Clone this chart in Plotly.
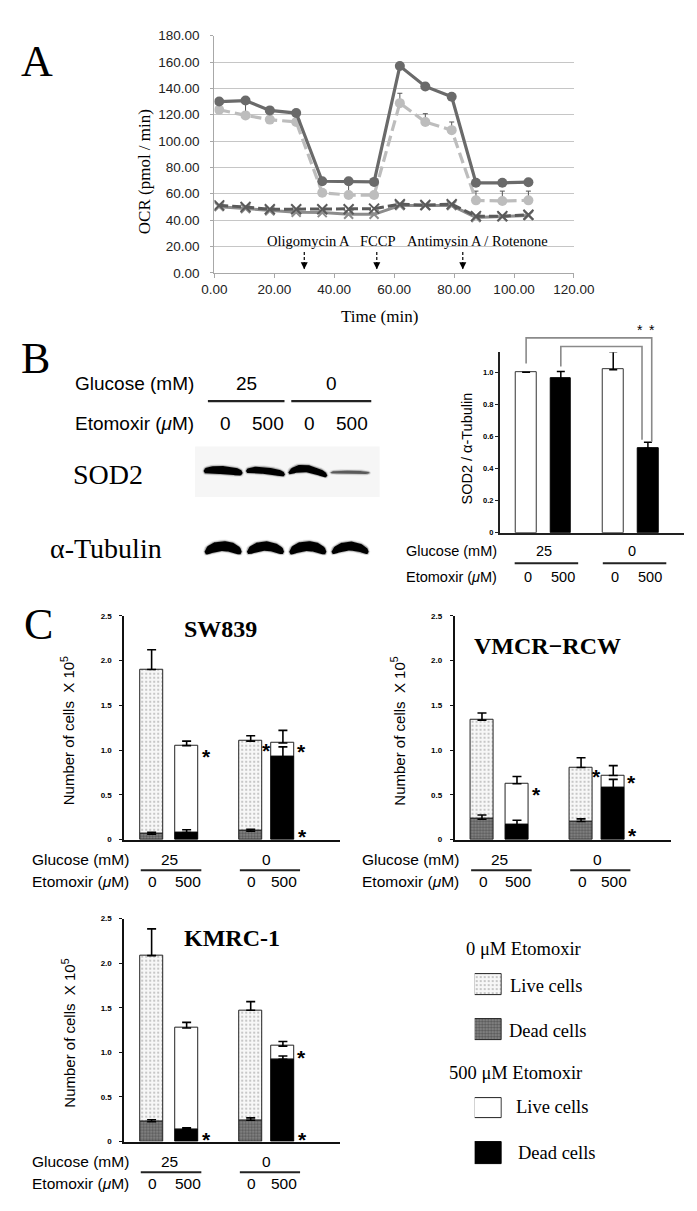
import plotly.graph_objects as go

W, H = 697, 1211
SANS = "Liberation Sans, Arial, sans-serif"
SERIF = "Liberation Serif, Times New Roman, serif"

# ---------------- Panel A data (OCR) ----------------
time_min = [1.6, 10.4, 18.5, 27.3, 36.0, 44.8, 53.3, 61.9, 70.4, 79.2, 87.3, 96.1, 104.8]
ocr_s1 = [130.0, 130.8, 123.3, 121.3, 69.5, 69.5, 69.0, 157.0, 141.5, 133.7, 68.3, 68.3, 68.8]
ocr_s1_err = [2.0, 0, 0, 0, 0, 0, 0, 0, 1.5, 0, 0, 0, 0]
ocr_s2 = [123.8, 119.5, 116.3, 114.5, 60.8, 59.0, 59.0, 128.8, 114.5, 108.3, 55.0, 54.5, 55.0]
ocr_s2_err = [0, 11.0, 0, 0, 0, 10.0, 0, 7.5, 6.3, 6.2, 7.0, 7.5, 7.0]
ocr_s3 = [51.2, 50.0, 48.2, 48.2, 48.2, 48.2, 48.7, 52.0, 51.5, 52.0, 43.0, 43.0, 44.0]
ocr_s4 = [50.2, 48.7, 47.0, 46.0, 45.7, 44.4, 44.4, 51.0, 51.0, 51.0, 42.0, 42.5, 43.5]
inhibitor_names = ["Oligomycin A", "FCCP", "Antimysin A / Rotenone"]
inhibitor_time = [30.0, 54.2, 82.9]
a_xticks = [0, 20, 40, 60, 80, 100, 120]
a_yticks = [0, 20, 40, 60, 80, 100, 120, 140, 160, 180]

# ---------------- Panel B data ----------------
glucose_labels = ["25", "0"]
etomoxir_labels = ["0", "500", "0", "500"]
sod2_ratio = [1.0, 0.96, 1.016, 0.525]
sod2_ratio_err = [0.0, 0.044, 0.111, 0.038]
sod2_band = [1.0, 0.85, 0.92, 0.35]
tubulin_band = [1.0, 0.95, 1.0, 0.9]
b_yticks = [0, 0.2, 0.4, 0.6, 0.8, 1.0]
b_yticktext = ["0", "0.2", "0.4", "0.6", "0.8", "1.0"]

# ---------------- Panel C data (cells x 10^5) ----------------
sw839_total = [1.90, 1.05, 1.10, 1.08]
sw839_total_err = [0.22, 0.05, 0.06, 0.14]
sw839_dead = [0.062, 0.08, 0.095, 0.926]
sw839_dead_err = [0.02, 0.03, 0.022, 0.11]

vmcr_total = [1.335, 0.625, 0.805, 0.717]
vmcr_total_err = [0.08, 0.08, 0.11, 0.11]
vmcr_dead = [0.228, 0.165, 0.202, 0.577]
vmcr_dead_err = [0.048, 0.052, 0.03, 0.096]

kmrc_total = [2.086, 1.274, 1.473, 1.071]
kmrc_total_err = [0.30, 0.063, 0.097, 0.052]
kmrc_dead = [0.222, 0.137, 0.24, 0.923]
kmrc_dead_err = [0.022, 0.018, 0.026, 0.037]

c_yticks = [0, 0.5, 1.0, 1.5, 2.0, 2.5]
c_yticktext = ["0", "0.5", "1.0", "1.5", "2.0", "2.5"]

# ---------------- layout geometry (pixels) ----------------
bar_pos_b = [0, 1, 2.51, 3.51]
bar_pos_c = [0, 1, 2.83, 3.75]
AX = {
    "A":    dict(n="", l=203.3, r=581.3, t=21.0, b=261.0, xr=[0, 120], yr=[0, 180]),
    "blot": dict(n="2", l=183, r=377, t=430, b=560, xr=[-0.663, 3.697], yr=[-0.255, 1.405]),
    "B":    dict(n="3", l=503.3, r=697, t=341.4, b=524.2, xr=[-0.76, 4.55], yr=[0, 1.125]),
    "SW":   dict(n="4", l=108.5, r=335.7, t=608.3, b=835.0, xr=[-0.783, 5.39], yr=[0, 2.5]),
    "VM":   dict(n="5", l=455.8, r=683.0, t=608.3, b=835.0, xr=[-0.783, 5.39], yr=[0, 2.5]),
    "KM":   dict(n="6", l=108.5, r=335.7, t=915.0, b=1140.7, xr=[-0.783, 5.39], yr=[0, 2.5]),
    "LG":   dict(n="7", l=477.0, r=505.5, t=960.0, b=1175.0, xr=[-0.5, 0.5], yr=[1175, 960]),
}


def xp(a, v):
    g = AX[a]
    px = g["l"] + (v - g["xr"][0]) / (g["xr"][1] - g["xr"][0]) * (g["r"] - g["l"])
    return px / W


def yp(a, v):
    g = AX[a]
    py = g["b"] - (v - g["yr"][0]) / (g["yr"][1] - g["yr"][0]) * (g["b"] - g["t"])
    return 1 - py / H


def PX(px):
    return px / W


def PY(py):
    return 1 - py / H


def axn(a):
    n = AX[a]["n"]
    return "x" + n, "y" + n


fig = go.Figure()
annotations = []
shapes = []


def txt(x, y, text, size, family=SANS, xanchor="center", yanchor="middle", color="black", **kw):
    annotations.append(dict(x=x, y=y, xref="paper", yref="paper", text=text, showarrow=False,
                            xanchor=xanchor, yanchor=yanchor,
                            font=dict(size=size, family=family, color=color), **kw))


def hline(x0, x1, y, color="black", width=1.8):
    shapes.append(dict(type="line", xref="paper", yref="paper", x0=x0, x1=x1, y0=y, y1=y,
                       line=dict(color=color, width=width)))


# ================= Panel A =================
xa, ya = axn("A")
for t in inhibitor_time:
    fig.add_trace(go.Scatter(x=[t, t], y=[15.7, 3.0], mode="lines", xaxis=xa, yaxis=ya,
                             line=dict(color="black", width=1.2, dash="3px,2px"),
                             showlegend=False, hoverinfo="skip"))
fig.add_trace(go.Scatter(x=inhibitor_time, y=[2.6] * len(inhibitor_time), mode="markers",
                         xaxis=xa, yaxis=ya, showlegend=False, hoverinfo="skip",
                         marker=dict(symbol="arrow-down", size=7, color="black")))
label_off = [1.5, 0.1, 4.8]
for name, t, o in zip(inhibitor_names, inhibitor_time, label_off):
    annotations.append(dict(x=t + o, y=23.8, xref=xa, yref=ya, text=name, showarrow=False,
                            font=dict(size=14.5, family=SERIF, color="black")))

fig.add_trace(go.Scatter(x=time_min, y=ocr_s4, mode="lines+markers", xaxis=xa, yaxis=ya,
                         line=dict(color="#8c8c8c", width=3),
                         marker=dict(symbol="x-thin", size=9, line=dict(color="#8c8c8c", width=2)),
                         showlegend=False))
fig.add_trace(go.Scatter(x=time_min, y=ocr_s3, mode="lines+markers", xaxis=xa, yaxis=ya,
                         line=dict(color="#5a5a5a", width=3, dash="9px,4px"),
                         marker=dict(symbol="x-thin", size=10, line=dict(color="#5a5a5a", width=2)),
                         showlegend=False))
fig.add_trace(go.Scatter(x=time_min, y=ocr_s2, mode="lines+markers", xaxis=xa, yaxis=ya,
                         line=dict(color="#bdbdbd", width=3.2, dash="11px,5px"),
                         marker=dict(symbol="circle", size=10, color="#bdbdbd"),
                         error_y=dict(type="data", array=ocr_s2_err, arrayminus=[0] * len(ocr_s2_err),
                                      symmetric=False, color="#555", thickness=1, width=2.5),
                         showlegend=False))
fig.add_trace(go.Scatter(x=time_min, y=ocr_s1, mode="lines+markers", xaxis=xa, yaxis=ya,
                         line=dict(color="#6a6a6a", width=3.2),
                         marker=dict(symbol="circle", size=10, color="#6a6a6a"),
                         error_y=dict(type="data", array=ocr_s1_err, arrayminus=[0] * len(ocr_s1_err),
                                      symmetric=False, color="#555", thickness=1, width=2.5),
                         showlegend=False))

txt(PX(17), PY(46.7), "A", 44, SERIF)
txt(PX(129.5), PY(159), "OCR (pmol / min)", 17, SERIF, textangle=-90)
txt(PX(377), PY(305), "Time (min)", 17, SERIF)

# ================= Panel B: blot =================
xa, ya = axn("blot")
shapes.append(dict(type="rect", xref="paper", yref="paper", x0=PX(183), x1=PX(377), y0=PY(488),
                   y1=PY(437), fillcolor="#f6f6f6", line=dict(width=0), layer="below"))
XU = (AX["blot"]["r"] - AX["blot"]["l"]) / (AX["blot"]["xr"][1] - AX["blot"]["xr"][0])
YU = (AX["blot"]["b"] - AX["blot"]["t"]) / (AX["blot"]["yr"][1] - AX["blot"]["yr"][0])
# band centre-line offsets in px (positive = up) at u = -1, -0.5, 0, 0.5, 1 (style only)
sod2_prof = [[0, 1, 1, 0, -2], [0, 1, 0.5, -1, -3.5],
             [-1.5, 2.5, 2.5, -0.5, -4.5], [-1.5, -1.2, -1.0, -1.4, -2.0]]
tub_prof = [-3.5, 1.0, 2.5, 1.0, -3.5]
US = [-1, -0.5, 0, 0.5, 1]


def interp(u, vs):
    for k in range(len(US) - 1):
        if US[k] <= u <= US[k + 1]:
            f = (u - US[k]) / (US[k + 1] - US[k])
            return vs[k] + f * (vs[k + 1] - vs[k])
    return vs[-1]


def band(lane, row, inten, th_px, half_px, prof):
    n = 31
    us = [-1 + 2 * k / (n - 1) for k in range(n)]
    core = "black" if inten > 0.6 else "#5a5a5a"
    for grow, col in [(3.5, "rgba(0,0,0,0.08)"), (1.6, "rgba(0,0,0,0.25)"), (0, core)]:
        hw = half_px + grow / 2
        th = (th_px * inten + grow) / 2
        top_x, top_y, bot_x, bot_y = [], [], [], []
        for u in us:
            tap = max(0.0, 1 - abs(u) ** 5) ** 0.4
            yc = interp(u, prof)
            xx = lane + u * hw / XU
            top_x.append(xx)
            bot_x.append(xx)
            top_y.append(row + (yc + th * tap) / YU)
            bot_y.append(row + (yc - th * tap) / YU)
        fig.add_trace(go.Scatter(x=top_x + bot_x[::-1], y=top_y + bot_y[::-1], mode="lines",
                                 fill="toself", fillcolor=col, line=dict(width=0),
                                 xaxis=xa, yaxis=ya, showlegend=False, hoverinfo="skip"))


for i, v in enumerate(sod2_band):
    band(i, 1, v, 8.0, 20.5, sod2_prof[i])
for i, v in enumerate(tubulin_band):
    band(i, 0, v, 10.0, 19.5, tub_prof)

txt(PX(15.6), PY(348), "B", 44, SERIF)
txt(PX(184), PY(372.7), "Glucose (mM)", 19, xanchor="right")
txt(PX(184), PY(413.3), "Etomoxir (<i>μ</i>M)", 19, xanchor="right")
txt(xp("blot", 0.55), PY(372.7), glucose_labels[0], 19)
txt(xp("blot", 2.57), PY(372.7), glucose_labels[1], 19)
for i, lab in enumerate(etomoxir_labels):
    txt(xp("blot", i + 0.05), PY(413.3), lab, 19)
hline(xp("blot", -0.36), xp("blot", 1.45), PY(391), "#222", 2.2)
hline(xp("blot", 1.61), xp("blot", 3.5), PY(391), "#222", 2.2)
txt(PX(91.5), PY(465), "SOD2", 28, SERIF)
txt(PX(89.3), PY(540), "α-Tubulin", 28, SERIF)

# ================= Panel B: bar chart =================
xa, ya = axn("B")
fig.add_trace(go.Bar(x=[bar_pos_b[0], bar_pos_b[2]], y=[sod2_ratio[0], sod2_ratio[2]], width=0.6,
                     marker=dict(color="white", line=dict(color="#333", width=1)),
                     error_y=dict(type="data", array=[sod2_ratio_err[0], sod2_ratio_err[2]],
                                  arrayminus=[0, 0], symmetric=False, color="black", thickness=1.5, width=4),
                     xaxis=xa, yaxis=ya, showlegend=False))
fig.add_trace(go.Bar(x=[bar_pos_b[1], bar_pos_b[3]], y=[sod2_ratio[1], sod2_ratio[3]], width=0.6,
                     marker=dict(color="black", line=dict(color="black", width=1)),
                     error_y=dict(type="data", array=[sod2_ratio_err[1], sod2_ratio_err[3]],
                                  arrayminus=[0, 0], symmetric=False, color="black", thickness=1.5, width=4),
                     xaxis=xa, yaxis=ya, showlegend=False))

# significance brackets (outer: lane1 vs lane4, inner: lane2 vs lane4)
for x0, y0, x1, y1, top in [(bar_pos_b[0], 1.054, bar_pos_b[3] + 0.11, 0.567, 1.214),
                            (bar_pos_b[1], 1.035, bar_pos_b[3] - 0.17, 0.58, 1.16)]:
    path = "M {:.5f},{:.5f} L {:.5f},{:.5f} L {:.5f},{:.5f} L {:.5f},{:.5f}".format(
        xp("B", x0), yp("B", y0), xp("B", x0), yp("B", top), xp("B", x1), yp("B", top),
        xp("B", x1), yp("B", y1))
    shapes.append(dict(type="path", xref="paper", yref="paper", path=path,
                       line=dict(color="#8a8a8a", width=1.6)))
txt(xp("B", 3.29), yp("B", 1.262), "*", 14, SANS)
txt(xp("B", 3.62), yp("B", 1.262), "*", 14, SANS)

txt(PX(468.8), PY(439), "SOD2 / α-Tubulin", 14.5, textangle=-90)
bb = AX["B"]["b"]
txt(PX(AX["B"]["l"] - 50.6), PY(bb + 18.5), "Glucose (mM)", 14.5)
txt(PX(AX["B"]["l"] - 50.6), PY(bb + 45), "Etomoxir (<i>μ</i>M)", 14.5)
txt(xp("B", 0.52), PY(bb + 18.5), glucose_labels[0], 14.5)
txt(xp("B", 3.05), PY(bb + 18.5), glucose_labels[1], 14.5)
for p, lab in zip(bar_pos_b, etomoxir_labels):
    txt(xp("B", p + 0.05), PY(bb + 45), lab, 14.5)
hline(xp("B", -0.33), xp("B", 1.5), PY(bb + 31), "#222", 2)
hline(xp("B", 2.21), xp("B", 4.04), PY(bb + 31), "#222", 2)

# ================= Panel C =================
LIVE0 = dict(color="#f7f7f7", line=dict(color="#222", width=1),
             pattern=dict(shape=".", fgcolor="#7d7d7d", size=4, solidity=0.22))
DEAD0 = dict(color="#8a8a8a", line=dict(color="#222", width=1),
             pattern=dict(shape=".", fgcolor="#262626", size=3, solidity=0.5))
LIVE5 = dict(color="white", line=dict(color="#222", width=1))
DEAD5 = dict(color="black", line=dict(color="black", width=1))


def err(a):
    return dict(type="data", array=a, arrayminus=[0] * len(a), symmetric=False,
                color="black", thickness=1.6, width=4.5)


def cell_chart(key, total, total_err, dead, dead_err, stars, title, title_px):
    xa, ya = axn(key)
    live = [t - d for t, d in zip(total, dead)]
    for idx, style_live in [([0, 2], LIVE0), ([1, 3], LIVE5)]:
        fig.add_trace(go.Bar(x=[bar_pos_c[i] for i in idx], y=[live[i] for i in idx],
                             base=[dead[i] for i in idx], width=0.67, marker=style_live,
                             error_y=err([total_err[i] for i in idx]),
                             xaxis=xa, yaxis=ya, showlegend=False))
    for idx, style_dead in [([0, 2], DEAD0), ([1, 3], DEAD5)]:
        fig.add_trace(go.Bar(x=[bar_pos_c[i] for i in idx], y=[dead[i] for i in idx],
                             width=0.67, marker=style_dead,
                             error_y=err([dead_err[i] for i in idx]),
                             xaxis=xa, yaxis=ya, showlegend=False))
    for sx, sy in stars:
        annotations.append(dict(x=sx, y=sy, xref=xa, yref=ya, text="<b>*</b>", showarrow=False,
                                yshift=-5, font=dict(size=21, family=SANS, color="black")))
    g = AX[key]
    txt(PX(title_px[0]), PY(title_px[1]), "<b>%s</b>" % title, 24, SERIF)
    txt(PX(g["l"] - 59.5), PY((g["t"] + g["b"]) / 2 + 3), "Number of cells  X 10<sup>5</sup>", 15,
        textangle=-90)
    b = g["b"]
    txt(PX(g["l"] - 46), PY(b + 20.5), "Glucose (mM)", 15.5)
    txt(PX(g["l"] - 46), PY(b + 42), "Etomoxir (<i>μ</i>M)", 15.5)
    txt(xp(key, 0.5), PY(b + 20.5), glucose_labels[0], 15.5)
    txt(xp(key, (bar_pos_c[2] + bar_pos_c[3]) / 2), PY(b + 20.5), glucose_labels[1], 15.5)
    for p, lab in zip(bar_pos_c, etomoxir_labels):
        txt(xp(key, p + 0.03), PY(b + 42.5), lab, 15.5)
    hline(xp(key, -0.31), xp(key, 1.42), PY(b + 31), "#222", 2)
    hline(xp(key, 2.52), xp(key, 4.24), PY(b + 31), "#222", 2)


cell_chart("SW", sw839_total, sw839_total_err, sw839_dead, sw839_dead_err,
           [(1.57, 0.985), (3.28, 1.055), (4.27, 1.04), (4.3, 0.09)], "SW839", (209.8, 621.7))
cell_chart("VM", vmcr_total, vmcr_total_err, vmcr_dead, vmcr_dead_err,
           [(1.55, 0.56), (3.27, 0.765), (4.26, 0.69), (4.3, 0.1)], "VMCR−RCW", (553.6, 639.3))
cell_chart("KM", kmrc_total, kmrc_total_err, kmrc_dead, kmrc_dead_err,
           [(1.57, 0.08), (4.27, 1.0), (4.3, 0.08)], "KMRC-1", (221.9, 935))
txt(PX(17.9), PY(616.7), "C", 44, SERIF)

# ================= Legend (swatches) =================
xa, ya = axn("LG")
legend_items = ["Live cells", "Dead cells", "Live cells", "Dead cells"]
legend_styles = [LIVE0, DEAD0, LIVE5, DEAD5]
legend_top_px = [971.0, 1016.5, 1096.7, 1141.7]
legend_h_px = [21.0, 21.0, 20.0, 21.5]
legend_text_px = [(511.7, 983.3), (510.7, 1028.3), (517.9, 1105.5), (520.0, 1152.3)]
for st, top, h in zip(legend_styles, legend_top_px, legend_h_px):
    fig.add_trace(go.Bar(x=[0], y=[h], base=[top], width=1.0, marker=st, xaxis=xa, yaxis=ya,
                         showlegend=False, hoverinfo="skip"))
for name, (tx, ty) in zip(legend_items, legend_text_px):
    txt(PX(tx), PY(ty), name, 18.5, SERIF, xanchor="left")
txt(PX(528), PY(946), "0 μM Etomoxir", 18.5, SERIF)
txt(PX(519.7), PY(1071.7), "500 μM Etomoxir", 18.5, SERIF)

# ================= axes =================
layout_axes = {}
for key, g in AX.items():
    n = g["n"]
    xd = [g["l"] / W, g["r"] / W]
    yd = [1 - g["b"] / H, 1 - g["t"] / H]
    xk, yk = "xaxis" + n, "yaxis" + n
    layout_axes[xk] = dict(domain=xd, range=g["xr"], anchor="y" + n, showgrid=False,
                           zeroline=False, showticklabels=False, ticks="", showline=False,
                           fixedrange=True)
    layout_axes[yk] = dict(domain=yd, range=g["yr"], anchor="x" + n, showgrid=False,
                           zeroline=False, showticklabels=False, ticks="", showline=False,
                           fixedrange=True)

layout_axes["xaxis"].update(showline=True, linecolor="#a8a8a8", linewidth=1.2,
                            showticklabels=True, tickvals=a_xticks, tickformat=".2f",
                            ticks="outside", ticklen=4, tickcolor="#a8a8a8",
                            tickfont=dict(size=13.5, family=SANS, color="#222"))
layout_axes["yaxis"].update(showline=True, linecolor="#a8a8a8", linewidth=1.2, showgrid=True,
                            gridcolor="#c6c6c6", gridwidth=1.3, showticklabels=True,
                            tickvals=a_yticks, tickformat=".2f", ticks="outside", ticklen=3,
                            tickcolor="#a8a8a8", ticklabelstandoff=8,
                            tickfont=dict(size=13.5, family=SANS, color="#222"))
layout_axes["xaxis3"].update(showline=True, linecolor="#222", linewidth=1.5)
layout_axes["yaxis3"].update(showline=True, linecolor="#222", linewidth=1.5, showticklabels=True,
                             tickvals=b_yticks, ticktext=b_yticktext, ticks="outside", ticklen=3,
                             tickcolor="#222", tickfont=dict(size=7.5, family=SANS, color="black",
                                                             weight="bold"))
for n in ["4", "5", "6"]:
    layout_axes["xaxis" + n].update(showline=True, linecolor="#111", linewidth=1.6)
    layout_axes["yaxis" + n].update(showline=True, linecolor="#111", linewidth=1.6,
                                    showticklabels=True, tickvals=c_yticks, ticktext=c_yticktext,
                                    ticks="outside", ticklen=3, tickcolor="#111",
                                    ticklabelstandoff=6,
                                    tickfont=dict(size=8, family=SANS, color="black", weight="bold"))

fig.update_layout(width=W, height=H, margin=dict(l=0, r=0, t=0, b=0),
                  paper_bgcolor="white", plot_bgcolor="rgba(0,0,0,0)",
                  barmode="overlay", bargap=0, showlegend=False,
                  annotations=annotations, shapes=shapes, **layout_axes)

fig.write_html("out.html")
